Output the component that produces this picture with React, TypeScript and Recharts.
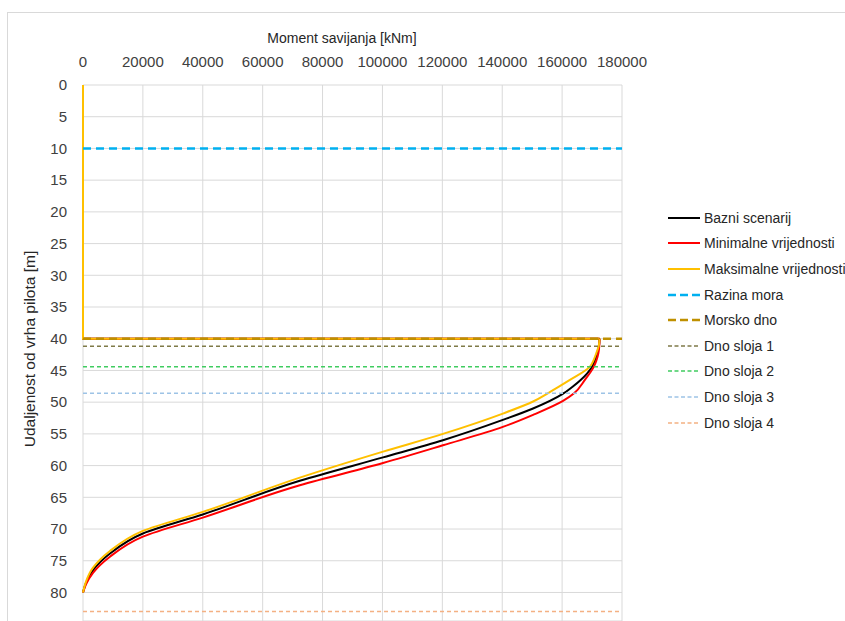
import React from "react";
import { LineChart, Line, XAxis, YAxis, CartesianGrid, Label } from "recharts";

// ---- data ----
const momentTicks = [0, 20000, 40000, 60000, 80000, 100000, 120000, 140000, 160000, 180000];
const depthTicks = [0, 5, 10, 15, 20, 25, 30, 35, 40, 45, 50, 55, 60, 65, 70, 75, 80];

const baseDepth = [0, 40, 40, 41.2, 42.3, 43.5, 44.4, 46.5, 47.6, 48.7, 51.0, 52.8, 56.0, 58.7, 62.4, 67.7, 70.7, 73.9, 76.5, 78.5, 80];
const baseMoment = [0, 0, 172500, 172300, 171700, 170900, 170000, 166200, 163400, 160200, 150300, 140200, 120200, 100200, 72400, 40000, 20000, 8900, 3340, 1000, 0];

const minDepth = [0, 40, 40, 41.2, 42.3, 43.5, 44.4, 46.5, 48.6, 49.8, 52.0, 53.9, 56.8, 59.6, 63.1, 68.2, 71.2, 74.4, 76.9, 78.7, 80];
const minMoment = [0, 0, 172500, 172400, 172100, 171400, 170600, 167600, 164000, 160300, 150300, 140200, 120200, 100200, 72400, 40000, 20000, 8900, 3340, 1000, 0];

const maxDepth = [0, 40, 40, 41.2, 42.3, 43.5, 44.4, 46.5, 47.6, 48.6, 49.9, 51.8, 55.0, 57.8, 61.9, 67.3, 70.3, 73.5, 76.1, 78.3, 80];
const maxMoment = [0, 0, 172500, 172200, 171400, 170400, 169300, 162600, 158800, 155200, 150300, 140200, 120200, 100200, 72400, 40000, 20000, 8900, 3340, 1000, 0];

const levelNames = ["Razina mora", "Morsko dno", "Dno sloja 1", "Dno sloja 2", "Dno sloja 3", "Dno sloja 4"];
const levelDepths = [10, 40, 41.2, 44.4, 48.6, 83];
const levelSpan = [0, 180000];

const curveNames = ["Bazni scenarij", "Minimalne vrijednosti", "Maksimalne vrijednosti"];

// ---- styles ----
const curveColors = ["#000000", "#FF0000", "#FFC000"];
const levelColors = ["#00B0F0", "#BF9000", "#7F7A48", "#40CC60", "#9DC3E6", "#F4B183"];
const levelWidths = [2.5, 2.5, 1.5, 1.5, 1.5, 1.5];
const levelDash = ["8 5", "8 5", "4 3", "4 3", "4 3", "4 3"];

const zip = (d: number[], m: number[]) => d.map((dv, i) => ({ d: dv, m: m[i] }));
const curves = [zip(baseDepth, baseMoment), zip(minDepth, minMoment), zip(maxDepth, maxMoment)];
const levels = levelDepths.map((dv) => levelSpan.map((m) => ({ d: dv, m })));

const FONT = "'Liberation Sans', Arial, sans-serif";

const XTitle = () => (
  <text x={342} y={43} textAnchor="middle" fontSize={14} fill="#262626" fontFamily={FONT}>
    Moment savijanja [kNm]
  </text>
);
const YTitle = () => (
  <text x={35} y={349} textAnchor="middle" fontSize={15.5} fill="#262626" fontFamily={FONT} transform="rotate(-90, 35, 349)">
    Udaljenost od vrha pilota [m]
  </text>
);

const legendItems = [
  ...curveNames.map((n, i) => ({ name: n, color: curveColors[i], width: 2, dash: undefined as string | undefined })),
  ...levelNames.map((n, i) => ({ name: n, color: levelColors[i], width: levelWidths[i], dash: i < 2 ? "8 4" : "4 2.5" })),
];

export default function App() {
  return (
    <div style={{ position: "absolute", left: 0, top: 0, width: 845, height: 621, background: "#fff", fontFamily: FONT, overflow: "hidden" }}>
      <div style={{ position: "absolute", left: 7, top: 12, width: 845, height: 640, borderLeft: "1px solid #d9d9d9", borderTop: "1px solid #d9d9d9" }} />
      <div style={{ position: "absolute", left: 0, top: 0 }}>
        <LineChart width={845} height={621} layout="vertical" margin={{ top: 0, right: 223, bottom: 0, left: 23 }}>
          <CartesianGrid stroke="#d9d9d9" strokeWidth={1} />
          <XAxis
            type="number"
            dataKey="m"
            orientation="top"
            domain={[0, 180000]}
            ticks={momentTicks}
            axisLine={false}
            tickLine={false}
            height={85}
            tickMargin={12}
            interval={0}
            tick={{ fontSize: 15, fill: "#404040", fontFamily: FONT }}
          >
            <Label content={<XTitle />} />
          </XAxis>
          <YAxis
            type="number"
            dataKey="d"
            domain={[0, 84.5]}
            ticks={depthTicks}
            axisLine={false}
            tickLine={false}
            width={60}
            tickMargin={10}
            interval={0}
            tick={{ fontSize: 15, fill: "#404040", fontFamily: FONT }}
          >
            <Label content={<YTitle />} />
          </YAxis>
          {curves.map((c, i) => (
            <Line
              key={"s" + i}
              data={c.slice(0, 3)}
              dataKey="m"
              type="linear"
              stroke={curveColors[i]}
              strokeWidth={2}
              dot={false}
              isAnimationActive={false}
            />
          ))}
          {curves.map((c, i) => (
            <Line
              key={"c" + i}
              data={c.slice(2)}
              dataKey="m"
              type="monotone"
              stroke={curveColors[i]}
              strokeWidth={2}
              dot={false}
              isAnimationActive={false}
            />
          ))}
          {levels.map((l, i) => (
            <Line
              key={"l" + i}
              data={l}
              dataKey="m"
              type="linear"
              stroke={levelColors[i]}
              strokeWidth={levelWidths[i]}
              strokeDasharray={levelDash[i]}
              dot={false}
              isAnimationActive={false}
            />
          ))}
        </LineChart>
      </div>
      <div style={{ position: "absolute", left: 668, top: 205 }}>
        {legendItems.map((it, i) => (
          <div key={i} style={{ display: "flex", alignItems: "center", height: 25.6, whiteSpace: "nowrap" }}>
            <svg width={32} height={6} style={{ marginRight: 4 }}>
              <line x1={0} y1={3} x2={32} y2={3} stroke={it.color} strokeWidth={it.width} strokeDasharray={it.dash} />
            </svg>
            <span style={{ fontSize: 14, color: "#262626" }}>{it.name}</span>
          </div>
        ))}
      </div>
    </div>
  );
}
